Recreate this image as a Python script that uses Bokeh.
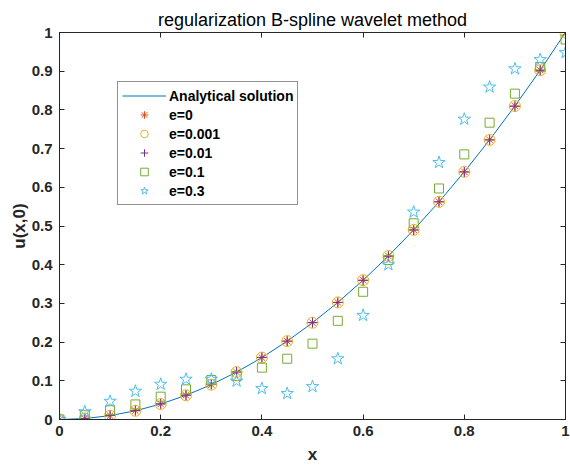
from bokeh.plotting import figure
from bokeh.models import LinearAxis, FixedTicker, Range1d
from bokeh.embed import file_html
from bokeh.resources import INLINE

# ---- data ----
x_vals = [0, 0.05, 0.1, 0.15, 0.2, 0.25, 0.3, 0.35, 0.4, 0.45, 0.5,
          0.55, 0.6, 0.65, 0.7, 0.75, 0.8, 0.85, 0.9, 0.95, 1.0]
analytical = [0, 0.0025, 0.01, 0.0225, 0.04, 0.0625, 0.09, 0.1225, 0.16, 0.2025, 0.25,
              0.3025, 0.36, 0.4225, 0.49, 0.5625, 0.64, 0.7225, 0.81, 0.9025, 1.0]
e0 = [0, 0.0025, 0.01, 0.0225, 0.04, 0.0625, 0.09, 0.1225, 0.16, 0.2025, 0.25,
      0.3025, 0.36, 0.4225, 0.49, 0.5625, 0.64, 0.7225, 0.81, 0.9025, 1.0]
e0001 = [0, 0.0025, 0.01, 0.0225, 0.04, 0.0625, 0.09, 0.1225, 0.16, 0.2025, 0.25,
         0.3025, 0.36, 0.4225, 0.49, 0.5625, 0.64, 0.7225, 0.81, 0.9025, 1.0]
e001 = [0, 0.0028, 0.0105, 0.023, 0.0405, 0.063, 0.0905, 0.123, 0.1605, 0.2025, 0.2505,
        0.3025, 0.3595, 0.422, 0.4895, 0.5625, 0.6395, 0.7225, 0.8095, 0.9025, 1.0]
e01 = [0, 0.011, 0.024, 0.039, 0.059, 0.078, 0.102, 0.112, 0.134, 0.157, 0.196,
       0.255, 0.33, 0.412, 0.507, 0.597, 0.685, 0.767, 0.842, 0.911, 0.982]
e03 = [0, 0.02, 0.047, 0.073, 0.091, 0.104, 0.104, 0.099, 0.08, 0.067, 0.085,
       0.157, 0.269, 0.4, 0.536, 0.664, 0.776, 0.859, 0.906, 0.93, 0.948]

x_ticks = [0, 0.2, 0.4, 0.6, 0.8, 1.0]
x_tick_labels = ["0", "0.2", "0.4", "0.6", "0.8", "1"]
y_ticks = [0, 0.1, 0.2, 0.3, 0.4, 0.5, 0.6, 0.7, 0.8, 0.9, 1.0]
y_tick_labels = ["0", "0.1", "0.2", "0.3", "0.4", "0.5", "0.6", "0.7", "0.8", "0.9", "1"]

title_text = "regularization B-spline wavelet method"
x_label = "x"
y_label = "u(x,0)"
series_labels = ["Analytical solution", "e=0", "e=0.001", "e=0.01", "e=0.1", "e=0.3"]

FONT = "Liberation Sans"

p = figure(width=570, height=466, x_range=Range1d(0, 1), y_range=Range1d(0, 1),
           output_backend="svg", toolbar_location=None,
           min_border_left=59, min_border_right=5, min_border_top=32, min_border_bottom=46,
           title=title_text)

p.title.text_font = FONT
p.title.text_font_size = "18px"
p.title.text_font_style = "normal"
p.title.align = "center"
p.title.text_color = "black"
p.title.standoff = 6

p.xgrid.visible = False
p.ygrid.visible = False
p.outline_line_color = "#262626"
p.outline_line_width = 1
p.background_fill_color = "white"
p.border_fill_color = "white"


def style_axis(ax, ticks, labels, show_labels=True):
    ax.ticker = FixedTicker(ticks=ticks)
    ax.major_label_overrides = {t: (l if show_labels else "") for t, l in zip(ticks, labels)}
    ax.major_tick_in = 5
    ax.major_tick_out = 0
    ax.minor_tick_line_color = None
    ax.axis_line_color = "#262626"
    ax.major_tick_line_color = "#262626"
    ax.major_label_text_font = FONT
    ax.major_label_text_font_size = "15px"
    ax.major_label_text_font_style = "bold"
    ax.major_label_text_color = "#262626"
    ax.axis_label_text_font = FONT
    ax.axis_label_text_font_size = "17px"
    ax.axis_label_text_font_style = "bold"
    ax.axis_label_text_color = "#262626"


xa = p.xaxis[0]
ya = p.yaxis[0]
style_axis(xa, x_ticks, x_tick_labels)
style_axis(ya, y_ticks, y_tick_labels)
xa.axis_label = x_label
ya.axis_label = y_label
xa.major_label_standoff = 6
xa.axis_label_standoff = 6
ya.major_label_standoff = 7
ya.axis_label_standoff = 0

top_ax = LinearAxis()
style_axis(top_ax, x_ticks, x_tick_labels, show_labels=False)
top_ax.major_label_standoff = 0
p.add_layout(top_ax, "above")
right_ax = LinearAxis()
style_axis(right_ax, y_ticks, y_tick_labels, show_labels=False)
right_ax.major_label_standoff = 0
p.add_layout(right_ax, "right")

p.line(x_vals, analytical, line_color="#0072BD", line_width=1, legend_label=series_labels[0])
p.scatter(x_vals, e0, marker="asterisk", size=9, line_color="#D95319", line_width=1,
          legend_label=series_labels[1])
p.scatter(x_vals, e0001, marker="circle", size=11, line_color="#EDB120", fill_color=None,
          line_width=1, legend_label=series_labels[2])
p.scatter(x_vals, e001, marker="cross", size=10, line_color="#7E2F8E", line_width=1,
          legend_label=series_labels[3])
p.scatter(x_vals, e01, marker="square", size=9, line_color="#77AC30", fill_color=None,
          line_width=1, legend_label=series_labels[4])
p.scatter(x_vals, e03, marker="star", size=13, line_color="#4DBEEE", fill_color=None,
          line_width=1, legend_label=series_labels[5])

lg = p.legend[0]
lg.location = (58, 214)
lg.label_text_font = FONT
lg.label_text_font_size = "14px"
lg.label_text_font_style = "bold"
lg.label_text_color = "black"
lg.glyph_width = 44
lg.glyph_height = 19
lg.label_height = 19
lg.label_standoff = 3
lg.spacing = 0
lg.padding = 4
lg.margin = 0
lg.border_line_color = "#262626"
lg.border_line_width = 1
lg.background_fill_color = "white"
lg.background_fill_alpha = 1

open("out.html", "w").write(file_html(p, INLINE))
